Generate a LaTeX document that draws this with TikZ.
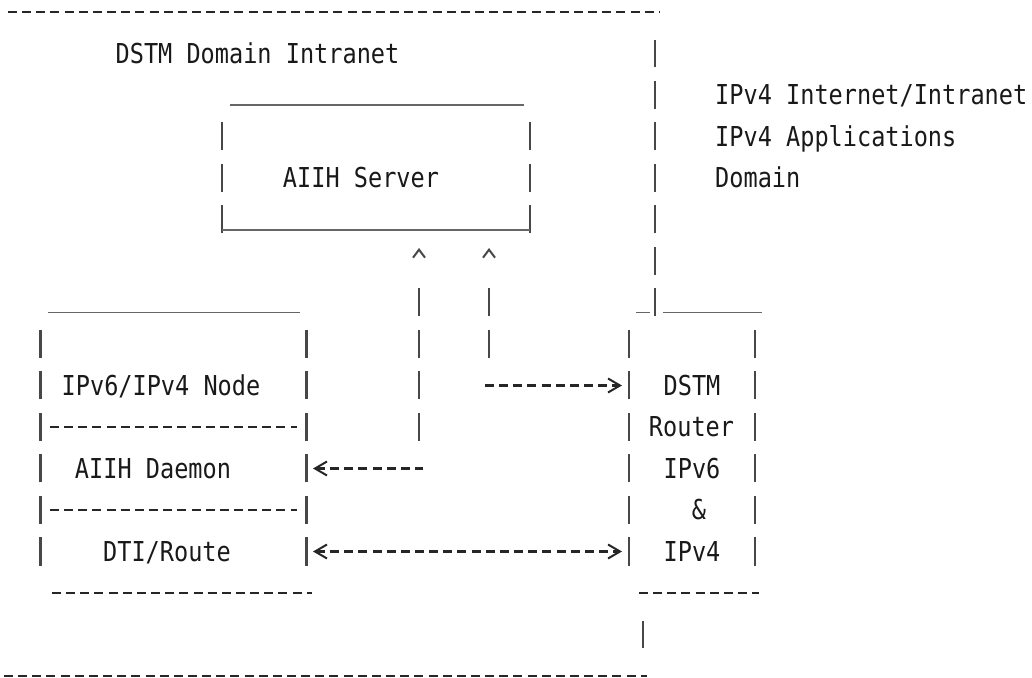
\documentclass[tikz,border=0pt]{standalone}
\usepackage{fontspec}
\setmonofont[FakeStretch=0.86]{DejaVu Sans Mono}
\usetikzlibrary{arrows.meta}

\tikzset{
  lbl/.style={font=\ttfamily\fontsize{27.4pt}{41.5pt}\selectfont, inner sep=0pt, anchor=base, text=black!90},
  box/.style={rectangle, inner sep=0pt, outer sep=0pt, minimum height=235.5pt},
  pipe/.style={draw=black!72, line width=2.8pt, dash pattern=on 28pt off 13.5pt},
  hyph/.style={draw=black!85, line width=2.6pt, dash pattern=on 9pt off 5.15pt},
  uline/.style={draw=black!60, line width=1.8pt},
  >={Straight Barb[length=12pt,width=14pt,line width=2pt]},
  caret/.tip={Straight Barb[length=8pt,width=12pt,line width=2pt]}
}

\begin{document}
\begin{tikzpicture}[x=1pt,y=-41.5pt]
\useasboundingbox (0,-0.289) rectangle (1032,16.048);

% boxes (one row = 41.5pt)
\node[box, minimum width=308pt, minimum height=111pt] (server) at (376,4) {};
\node[box, minimum width=266pt] (host) at (173.7,10.5) {};
\node[box, minimum width=126pt] (router) at (692,10.5) {};

\coordinate (up1) at (419,10.337);
\coordinate (up2) at (489,8.337);
\coordinate (left1) at (423,11);
\coordinate (right2) at (485,9);
\coordinate (row13) at (0,13);

% domain border
\draw[hyph] (8,0) -- (660,0);
\draw[pipe] (655,7.337) -- (655,0.663);
\draw[pipe] (643,15.337) -- (643,14.663);
\draw[hyph] (4,16) -- (647,16);

% server
\draw[uline] ([xshift=8pt,yshift=17.5pt]server.north west) -- ([xshift=-6pt,yshift=17.5pt]server.north east);
\draw[pipe] (server.south west) -- (server.north west);
\draw[pipe] (server.south east) -- (server.north east);
\draw[uline] ([yshift=3.5pt]server.south west) -- ([yshift=3.5pt]server.south east);

% dual stack node
\draw[uline] ([xshift=7pt,yshift=17.5pt]host.north west) -- ([xshift=-7pt,yshift=17.5pt]host.north east);
\draw[pipe] (host.south west) -- (host.north west);
\draw[pipe] (host.south east) -- (host.north east);
\foreach \r in {10,12}
  \draw[hyph] (50,\r) -- (297,\r);
\draw[hyph] (52,14) -- (312,14);

% router
\draw[uline] (636,7.24) -- (650,7.24);
\draw[uline] (663,7.24) -- (762,7.24);
\draw[pipe] (router.south west) -- (router.north west);
\draw[pipe] (router.south east) -- (router.north east);
\draw[hyph] (639,14) -- (759,14);

% labels
\node[lbl] (domain) at (257.5,1.24) {DSTM Domain Intranet};
\node[lbl, anchor=base west] (inet1) at (715,2.24) {IPv4 Internet/Intranet};
\node[lbl, anchor=base west] (inet2) at (715,3.24) {IPv4 Applications};
\node[lbl, anchor=base west] (inet3) at (715,4.24) {Domain};
\node[lbl] (server label) at (361,4.24) {AIIH Server};
\node[lbl] (host label) at (161,9.24) {IPv6/IPv4 Node};
\node[lbl] (daemon) at (153,11.24) {AIIH Daemon};
\node[lbl] (route) at (167,13.24) {DTI/Route};
\node[lbl] (r1) at (692,9.24) {DSTM};
\node[lbl] (r2) at (691.5,10.24) {Router};
\node[lbl] (r3) at (692,11.24) {IPv6};
\node[lbl] (r4) at (699,12.24) {\&};
\node[lbl] (r5) at (692,13.24) {IPv4};

% connectors
\draw[pipe, -caret, shorten >=14.5pt, dash pattern=on 28pt off 13.5pt on 28pt off 13.5pt on 28pt off 13.5pt on 28pt off 60pt] (up1) -- (up1 |- server.south);
\draw[pipe, -caret, shorten >=14.5pt, dash pattern=on 28pt off 13.5pt on 28pt off 60pt] (up2) -- (up2 |- server.south);
\draw[hyph, <-, shorten <=6.3pt] (host.east |- left1) -- (left1);
\draw[hyph, ->, shorten >=7pt] (right2) -- (right2 -| router.west);
\draw[hyph, <->, shorten <=6.3pt, shorten >=7pt] (host.east |- row13) -- (router.west |- row13);
\end{tikzpicture}
\end{document}
